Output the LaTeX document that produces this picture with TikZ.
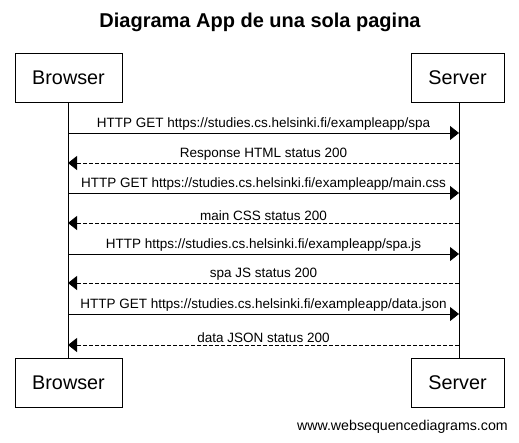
\documentclass[tikz,border=0pt]{standalone}
\usepackage{fontspec}
\setmainfont{Liberation Sans}
\usetikzlibrary{arrows.meta}

\begin{document}
\begin{tikzpicture}[x=1pt,y=1pt,>={Triangle[length=9pt,width=14pt]},
                    actor/.style={rectangle,draw,thick,minimum height=49pt,font=\fontsize{19.8}{23}\selectfont},
                    msg/.style={->,thick},
                    reply/.style={->,thick,dash pattern=on 4pt off 2pt},
                    every node/.style={inner sep=1pt}]

                    \useasboundingbox (0,0) rectangle (519,-442);

                    \node[font=\fontsize{20}{24}\selectfont\bfseries] (title) at (260,-22) {Diagrama App de una sola pagina};

                    \node[actor,minimum width=107pt] (b0) at (68.5,-77.5) {Browser};
                    \node[actor,minimum width=93pt] (s0) at (457.5,-77.5) {Server};
                    \node[actor,minimum width=107pt] (b9) at (68.5,-382.5) {Browser};
                    \node[actor,minimum width=93pt] (s9) at (457.5,-382.5) {Server};

                    \node[font=\fontsize{14.2}{17}\selectfont,anchor=east] (site) at (509,-427) {www.websequencediagrams.com};

                    % points on the lifelines
                    \foreach \y [count=\i] in {133,163,193,223,254,283,314,345}
                    {
                        \coordinate (b\i) at (68,-\y);
                        \coordinate (s\i) at (459,-\y);
                    }

                    \draw[thick] (b0.south -| b1) -- (b9.north -| b1);
                    \draw[thick] (s0.south -| s1) -- (s9.north -| s1);

                    \path[every node/.style={font=\fontsize{13.5}{16}\selectfont,above,inner sep=2pt}]
                        (b1) edge[msg] node {HTTP GET https://studies.cs.helsinki.fi/exampleapp/spa} (s1)
                        (s2) edge[reply] node {Response HTML status 200} (b2)
                        (b3) edge[msg] node {HTTP GET https://studies.cs.helsinki.fi/exampleapp/main.css} (s3)
                        (s4) edge[reply] node {main CSS status 200} (b4)
                        (b5) edge[msg] node {HTTP https://studies.cs.helsinki.fi/exampleapp/spa.js} (s5)
                        (s6) edge[reply] node {spa JS status 200} (b6)
                        (b7) edge[msg] node {HTTP GET https://studies.cs.helsinki.fi/exampleapp/data.json} (s7)
                        (s8) edge[reply] node {data JSON status 200} (b8);
\end{tikzpicture}
\end{document}
